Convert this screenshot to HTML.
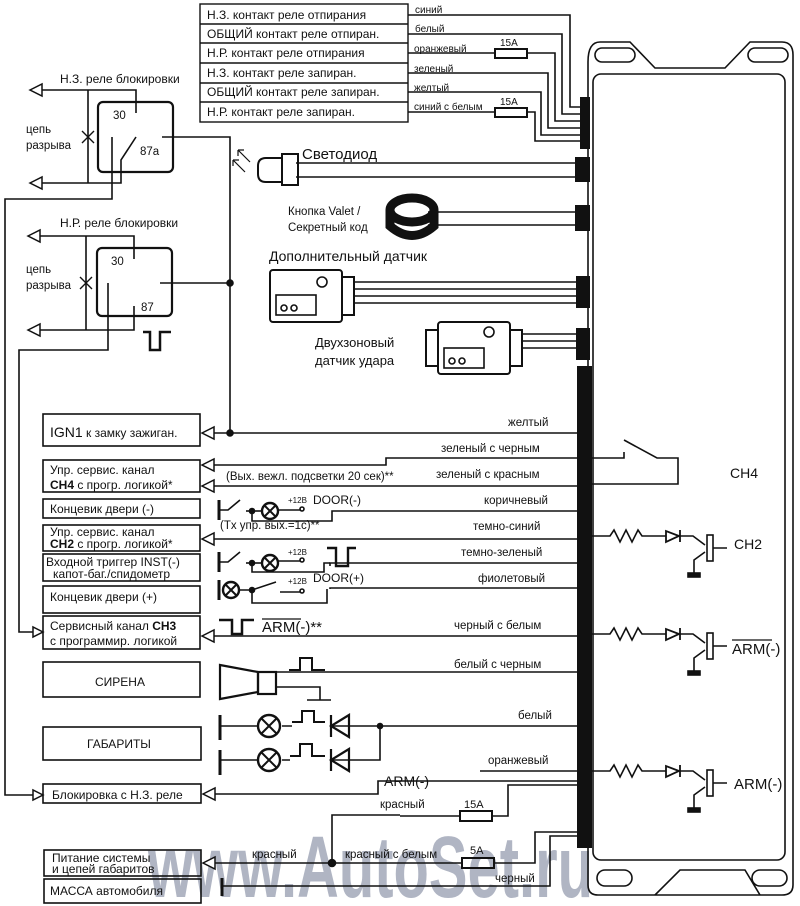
<!DOCTYPE html>
<html><head><meta charset="utf-8"><style>
html,body{margin:0;padding:0;background:#fff}
svg{display:block}
text{font-family:"Liberation Sans","DejaVu Sans",sans-serif;fill:#111}
</style></head><body>
<svg width="800" height="906" viewBox="0 0 800 906" xmlns="http://www.w3.org/2000/svg">
<!-- watermark -->
<text transform="translate(148,897) scale(1,1.45)" font-size="60" font-weight="bold" style="fill:#7c849c;opacity:.6" textLength="445" lengthAdjust="spacingAndGlyphs">www.AutoSet.ru</text>
<g stroke="#111" stroke-width="1.6" fill="none">
<!-- main unit -->
<path d="M588,62 Q588,42 600,42 L630,42 L655,68 L725,68 L750,42 L782,42 Q793,42 793,55 L793,885 Q793,895 782,895 L598,895 Q588,895 588,885 Z"/>
<rect x="593" y="74" width="192" height="786" rx="8"/>
<rect x="595" y="48" width="40" height="14" rx="7"/>
<rect x="748" y="48" width="40" height="14" rx="7"/>
<rect x="597" y="870" width="35" height="16" rx="8"/>
<rect x="752" y="870" width="35" height="16" rx="8"/>
<path d="M655,895 L680,870 L745,870 L760,895"/>
<!-- top table -->
<rect x="200" y="4" width="208" height="118" stroke-width="1.4"/>
<path d="M200,24 H408 M200,43 H408 M200,63 H408 M200,83 H408 M200,102 H408" stroke-width="1.4"/>
<!-- top wires -->
<path d="M408,15 H570 V107 H581"/>
<path d="M408,34 H562 V114 H581"/>
<path d="M408,53 H495 M527,53 H555 V121 H581"/>
<path d="M408,73 H548 V128 H581"/>
<path d="M408,92 H541 V135 H581"/>
<path d="M408,112 H495 M527,112 H535 V141 H581"/>
<rect x="495" y="49" width="32" height="9" stroke-width="2"/>
<rect x="495" y="108" width="32" height="9" stroke-width="2"/>
<!-- LED -->
<path d="M296,163 H578 M296,177 H578"/>
<path d="M282,154 H298 V185 H282 Z" stroke-width="2"/>
<path d="M282,158 H266 Q258,158 258,166 V174 Q258,182 266,182 H282" stroke-width="2"/>
<path d="M250,162 L238,150 M238,150 l0,6 M238,150 l6,0 M245,172 L233,160 M233,160 l0,6 M233,160 l6,0" stroke-width="1.2"/>
<!-- valet -->
<path d="M428,212 H578 M428,225 H578"/>
<ellipse cx="412" cy="210" rx="22" ry="12" stroke-width="9"/>
<path d="M390,210 V226 Q412,245 434,226 V210" stroke-width="9"/>
<!-- additional sensor -->
<path d="M355,282 H578 M355,289 H578 M355,296 H578 M355,303 H578"/>
<rect x="270" y="270" width="72" height="52" rx="3" stroke-width="2"/>
<rect x="342" y="277" width="12" height="38" stroke-width="2"/>
<rect x="276" y="295" width="40" height="20" stroke-width="1.6"/>
<circle cx="284" cy="308" r="3"/><circle cx="294" cy="308" r="3"/>
<circle cx="322" cy="282" r="5"/>
<!-- shock sensor -->
<path d="M522,334 H578 M522,341 H578 M522,348 H578"/>
<rect x="438" y="322" width="72" height="52" rx="3" stroke-width="2"/>
<rect x="426" y="330" width="12" height="36" stroke-width="2"/>
<rect x="510" y="330" width="12" height="36" stroke-width="2"/>
<rect x="444" y="348" width="40" height="20"/>
<circle cx="452" cy="361" r="3"/><circle cx="462" cy="361" r="3"/>
<circle cx="489" cy="332" r="5"/>
<!-- relay 1 -->
<rect x="98" y="102" width="75" height="70" rx="5" stroke-width="2.2"/>
<path d="M42,90 H136 V113"/>
<path d="M88,90 V183"/>
<path d="M42,183 H121 V160 L136,137"/>
<path d="M112,137 V199 H5 V795 H33" />
<path d="M162,137 H230 V433"/>
<path d="M82,131 l12,12 M94,131 l-12,12" stroke-width="1.4"/>
<!-- relay 2 -->
<rect x="97" y="248" width="75" height="68" rx="5" stroke-width="2.2"/>
<path d="M40,236 H134 V259"/>
<path d="M86,236 V330"/>
<path d="M40,330 H134 V306"/>
<path d="M108,283 V350 H19 V632 H33"/>
<path d="M160,283 H230"/>
<path d="M80,277 l12,12 M92,277 l-12,12" stroke-width="1.4"/>
<path d="M143,332 H150 V350 H160 V332 H171" stroke-width="2.5"/>
<!-- left boxes -->
<g stroke-width="1.6">
<rect x="43" y="414" width="157" height="32"/>
<rect x="43" y="460" width="157" height="32"/>
<rect x="43" y="499" width="157" height="19"/>
<rect x="43" y="525" width="157" height="26"/>
<rect x="43" y="554" width="157" height="27"/>
<rect x="43" y="586" width="157" height="27"/>
<rect x="43" y="616" width="157" height="33"/>
<rect x="43" y="662" width="157" height="35"/>
<rect x="43" y="727" width="158" height="33"/>
<rect x="43" y="784" width="158" height="19"/>
<rect x="44" y="850" width="157" height="26"/>
<rect x="44" y="879" width="157" height="24"/>
</g>
<g fill="#fff" stroke-width="1.5">
<path d="M202,433 L214,427 L214,439 Z"/>
<path d="M202,465 L214,459 L214,471 Z"/>
<path d="M202,486 L214,480 L214,492 Z"/>
<path d="M202,539 L214,533 L214,545 Z"/>
<path d="M202,636 L214,630 L214,642 Z"/>
<path d="M203,794 L215,788 L215,800 Z"/>
<path d="M203,863 L215,857 L215,869 Z"/>
<path d="M43,632 L33,627 L33,637 Z"/>
<path d="M43,795 L33,790 L33,800 Z"/>
<path d="M30,90 L42,84 L42,96 Z"/>
<path d="M30,183 L42,177 L42,189 Z"/>
<path d="M28,236 L40,230 L40,242 Z"/>
<path d="M28,330 L40,324 L40,336 Z"/>
</g>
<!-- wires to main -->
<path d="M214,433 H578"/>
<path d="M214,465 H386 V458 H578"/>
<path d="M214,486 H578"/>
<path d="M214,539 H578"/>
<path d="M330,566 V563 H578"/>
<path d="M330,589 V588 H578"/>
<path d="M214,636 H578"/>
<path d="M277,672 H578"/>
<path d="M380,726 H578"/>
<path d="M215,794 H378 V781 H578"/>
<path d="M480,771 H578"/>
<path d="M400,816 H460 M492,816 H508 V785 H578"/>
<path d="M215,863 H332 V815 H400"/>
<path d="M332,863 H462 M494,863 H535 V832 H578"/>
<path d="M222,886 H550 V836 H578"/>
<rect x="460" y="811" width="32" height="10" stroke-width="2"/>
<rect x="462" y="858" width="32" height="10" stroke-width="2"/>
<path d="M222,878 V896" stroke-width="3"/>
<!-- door(-) -->
<path d="M219,500 V520" stroke-width="3"/>
<path d="M219,510 H228 L240,500"/>
<path d="M246,511 H262"/>
<circle cx="270" cy="511" r="8" stroke-width="2.4"/>
<path d="M264,505 l12,12 M276,505 l-12,12" stroke-width="2"/>
<path d="M278,510 H300"/><circle cx="302" cy="509" r="2"/>
<path d="M252,511 V521 H332 V511 H578"/>
<circle cx="252" cy="511" r="2.5" fill="#111"/>
<!-- inst -->
<path d="M219,552 V572" stroke-width="3"/>
<path d="M219,562 H228 L240,552"/>
<path d="M246,563 H262"/>
<circle cx="270" cy="563" r="8" stroke-width="2.4"/>
<path d="M264,557 l12,12 M276,557 l-12,12" stroke-width="2"/>
<path d="M278,561 H300"/><circle cx="302" cy="560" r="2"/>
<path d="M252,563 V572 H324 V563 H330"/>
<circle cx="252" cy="563" r="2.5" fill="#111"/>
<path d="M327,548 H336 V566 H348 V548 H356" stroke-width="2.4"/>
<!-- door(+) -->
<path d="M219,580 V600" stroke-width="3"/>
<circle cx="231" cy="590" r="8" stroke-width="2.4"/>
<path d="M225,584 l12,12 M237,584 l-12,12" stroke-width="2"/>
<path d="M239,590 H252 L276,582"/>
<path d="M280,592 H300"/><circle cx="302" cy="591" r="2"/>
<path d="M252,590 V603 H327 V589"/>
<circle cx="252" cy="590" r="2.5" fill="#111"/>
<path d="M219,620 H232 V634 H242 V620 H254" stroke-width="2.5"/>
<!-- siren -->
<path d="M220,665 L258,672 V692 L220,699 Z" stroke-width="2.2"/>
<rect x="258" y="672" width="18" height="22" stroke-width="2.2"/>
<path d="M277,687 H320 V700 M307,700 H331" />
<path d="M289,670 H300 V658 H312 V670 H325" stroke-width="2"/>
<!-- gabarity -->
<path d="M220,715 V740 M220,750 V775" stroke-width="3"/>
<path d="M220,726 H258 M282,726 H292 M220,760 H258 M282,760 H290"/>
<circle cx="269" cy="726" r="11" stroke-width="2.4"/><path d="M261,718 l16,16 M277,718 l-16,16" stroke-width="2"/>
<circle cx="269" cy="760" r="11" stroke-width="2.4"/><path d="M261,752 l16,16 M277,752 l-16,16" stroke-width="2"/>
<path d="M292,722 H302 V711 H314 V722 H325" stroke-width="2"/>
<path d="M290,756 H300 V744 H312 V756 H325" stroke-width="2"/>
<path d="M331,726 H380 V760 H331"/>
<path d="M349,715 L331,726 L349,737 Z M331,715 V737" stroke-width="2.2"/>
<path d="M349,749 L331,760 L349,771 Z M331,749 V771" stroke-width="2.2"/>
<circle cx="380" cy="726" r="2.5" fill="#111"/>
<circle cx="230" cy="433" r="3" fill="#111"/>
<circle cx="230" cy="283" r="3" fill="#111"/>
<circle cx="332" cy="863" r="3.5" fill="#111"/>
<!-- CH4 switch -->
<path d="M578,458 H624 V452 M624,440 L657,458 H678 V484 H578"/>
<g>
<path d="M578,536 H610 l4,-6 l6,12 l6,-12 l6,12 l6,-12 l4,6 H666"/>
<path d="M666,531 V542 L679,536 Z M680,530 V542" stroke-width="1.8"/>
<path d="M680,536 H693 L705,545"/>
<rect x="707" y="535" width="6" height="26" stroke-width="1.6"/>
<path d="M713,548 H727 M705,552 L694,560 V574"/><rect x="688" y="573" width="12" height="4" fill="#111"/>
</g>
<g>
<path d="M578,634 H610 l4,-6 l6,12 l6,-12 l6,12 l6,-12 l4,6 H666"/>
<path d="M666,629 V640 L679,634 Z M680,628 V640" stroke-width="1.8"/>
<path d="M680,634 H693 L705,643"/>
<rect x="707" y="633" width="6" height="26"/>
<path d="M713,646 H727 M705,650 L694,658 V672"/><rect x="688" y="671" width="12" height="4" fill="#111"/>
</g>
<g>
<path d="M578,771 H610 l4,-6 l6,12 l6,-12 l6,12 l6,-12 l4,6 H666"/>
<path d="M666,766 V777 L679,771 Z M680,765 V777" stroke-width="1.8"/>
<path d="M680,771 H693 L705,780"/>
<rect x="707" y="770" width="6" height="26"/>
<path d="M713,783 H727 M705,787 L694,795 V809"/><rect x="688" y="808" width="12" height="4" fill="#111"/>
</g>
</g>
<rect x="577" y="366" width="15" height="482" fill="#111"/>
<rect x="580" y="97" width="10" height="52" fill="#111"/>
<rect x="575" y="157" width="15" height="25" fill="#111"/>
<rect x="575" y="205" width="15" height="26" fill="#111"/>
<rect x="576" y="276" width="14" height="32" fill="#111"/>
<rect x="576" y="328" width="14" height="32" fill="#111"/>
<g font-size="12">
<text x="207" y="19">Н.З. контакт реле отпирания</text>
<text x="207" y="38">ОБЩИЙ контакт реле отпиран.</text>
<text x="207" y="57">Н.Р. контакт реле отпирания</text>
<text x="207" y="77">Н.З. контакт реле запиран.</text>
<text x="207" y="96">ОБЩИЙ контакт реле запиран.</text>
<text x="207" y="116">Н.Р. контакт реле запиран.</text>
</g>
<g font-size="10">
<text x="415" y="13">синий</text>
<text x="415" y="32">белый</text>
<text x="414" y="52">оранжевый</text>
<text x="414" y="72">зеленый</text>
<text x="414" y="91">желтый</text>
<text x="414" y="110">синий с белым</text>
<text x="500" y="46">15A</text>
<text x="500" y="105">15A</text>
</g>
<text x="60" y="83" font-size="12">Н.З. реле блокировки</text>
<text x="60" y="227" font-size="12">Н.Р. реле блокировки</text>
<g font-size="11.5">
<text x="26" y="133">цепь</text><text x="26" y="149">разрыва</text>
<text x="26" y="273">цепь</text><text x="26" y="289">разрыва</text>
<text x="113" y="119">30</text><text x="140" y="155">87a</text>
<text x="111" y="265">30</text><text x="141" y="311">87</text>
</g>
<text x="302" y="159" font-size="15">Светодиод</text>
<text x="288" y="215" font-size="11.5">Кнопка  Valet /</text>
<text x="288" y="231" font-size="11.5">Секретный  код</text>
<text x="269" y="261" font-size="14">Дополнительный  датчик</text>
<text x="315" y="347" font-size="13">Двухзоновый</text>
<text x="315" y="365" font-size="13">датчик удара</text>
<g font-size="12">
<text x="50" y="437"><tspan font-size="14">IGN1</tspan> к замку зажиган.</text>
<text x="50" y="474">Упр. сервис. канал</text>
<text x="50" y="489"><tspan font-weight="bold">CH4</tspan>  с прогр. логикой*</text>
<text x="50" y="513">Концевик двери (-)</text>
<text x="50" y="536">Упр. сервис. канал</text>
<text x="50" y="548"><tspan font-weight="bold">CH2</tspan>  с прогр. логикой*</text>
<text x="46" y="566">Входной триггер INST(-)</text>
<text x="53" y="578">капот-баг./спидометр</text>
<text x="50" y="601">Концевик двери (+)</text>
<text x="50" y="630">Сервисный канал <tspan font-weight="bold">CH3</tspan></text>
<text x="50" y="645">с программир. логикой</text>
<text x="95" y="686">СИРЕНА</text>
<text x="87" y="748">ГАБАРИТЫ</text>
<text x="52" y="799">Блокировка с Н.З. реле</text>
<text x="52" y="862">Питание системы</text>
<text x="52" y="873">и цепей габаритов</text>
<text x="50" y="895">МАССА автомобиля</text>
</g>
<g font-size="11.5">
<text x="508" y="426">желтый</text>
<text x="441" y="452">зеленый с черным</text>
<text x="436" y="478">зеленый с красным</text>
<text x="226" y="480">(Вых. вежл. подсветки 20 сек)**</text>
<text x="484" y="504">коричневый</text>
<text x="473" y="530">темно-синий</text>
<text x="461" y="556">темно-зеленый</text>
<text x="478" y="582">фиолетовый</text>
<text x="454" y="629">черный с белым</text>
<text x="454" y="668">белый с черным</text>
<text x="518" y="719">белый</text>
<text x="488" y="764">оранжевый</text>
<text x="380" y="808">красный</text>
<text x="252" y="858">красный</text>
<text x="345" y="858">красный с белым</text>
<text x="495" y="882">черный</text>
<text x="220" y="529">(Tx упр. вых.=1с)**</text>
<text x="313" y="504" font-size="12">DOOR(-)</text>
<text x="313" y="582" font-size="12">DOOR(+)</text>
</g>
<g font-size="8">
<text x="288" y="503">+12В</text><text x="288" y="555">+12В</text><text x="288" y="584">+12В</text>
</g>
<text x="262" y="632" font-size="15">ARM(-)**</text>
<text x="384" y="786" font-size="14">ARM(-)</text>
<text x="464" y="808" font-size="11">15A</text>
<text x="470" y="854" font-size="11">5A</text>
<text x="730" y="478" font-size="14">CH4</text>
<text x="734" y="549" font-size="14">CH2</text>
<text x="732" y="654" font-size="15">ARM(-)</text>
<path d="M732,640 H772 M262,619 H301" stroke="#111" stroke-width="1.2"/>
<text x="734" y="789" font-size="15">ARM(-)</text>
</svg>
</body></html>
